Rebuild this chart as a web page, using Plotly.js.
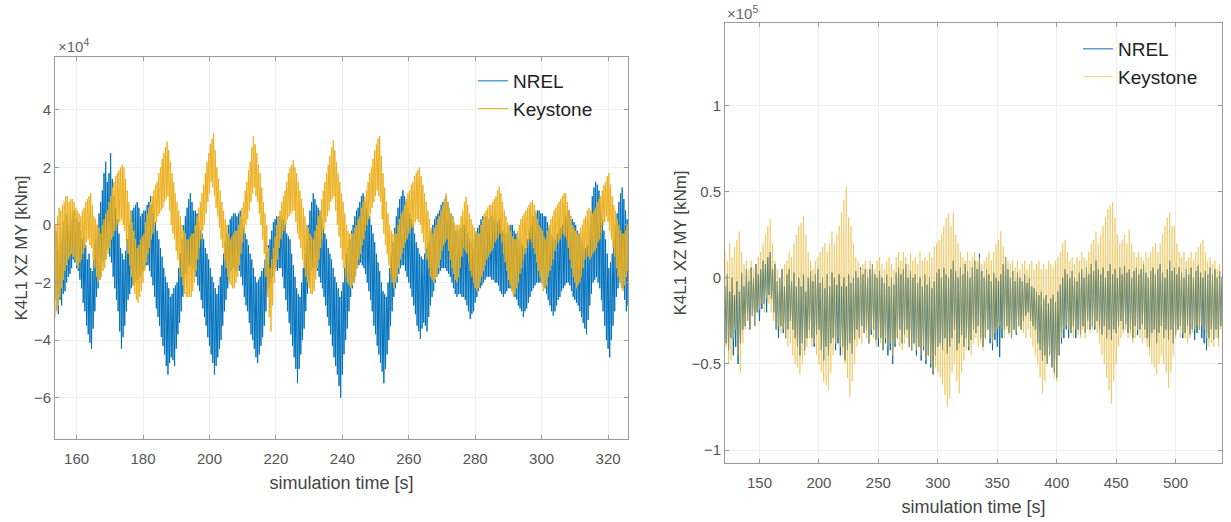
<!DOCTYPE html>
<html>
<head>
<meta charset="utf-8">
<script src="https://cdn.plot.ly/plotly-3.0.1.min.js"></script>
<style>html,body{margin:0;padding:0;background:#fff;}#chart{width:1231px;height:522px;}</style>
</head>
<body>
<div id="chart"></div>
<script>
// ---- Left panel data (values in units of 1e4 kNm), sampled every 0.25 s from t = 153.5 s
const leftT0 = 153.5;
const leftDt = 0.25;
const leftNREL = [
-2.6,-0.2,-2.9,-0.4, -3.1,-0.9,-2.6,-0.6, -2.8,-0.1,-2.4,0.1, -2.3,0.4,-2.0,0.3, -1.8,0.0,-1.7,0.2,
-1.5,0.4,-1.2,0.5, -1.3,0.2,-1.5,0.46, -1.6,0.1,-1.9,-0.2, -2.2,-0.5,-2.7,-0.4, -3.0,-0.7,-3.5,-1.2,
-3.8,-1.0,-4.1,-1.5, -4.3,-1.6,-3.6,-1.2, -3.0,-0.5,-2.5,0, -2.2,0.4,-1.9,0.8, -1.6,1.2,-1.3,1.8,
-1.2,2.2,-1.0,1.5, -0.8,1.8,-1.1,2.5, -1.3,1.6,-1.8,1.0, -2.2,0.6,-2.6,0.2, -3.0,-0.3,-3.7,-0.8,
-4.3,-1.0,-3.9,-1.2, -3.5,-0.9,-3.0,-0.5, -2.6,0.0,-2.4,0.5, -2.2,0.5,-2.1,0.6, -2.0,0.7,-1.9,0.8,
-1.9,0.6,-1.8,0.3, -1.8,0.4,-1.6,0.5, -1.5,0.5,-1.4,0.7, -1.4,0.8,-1.6,1.0, -1.8,0.7,-2.1,0.4,
-2.5,0.1,-2.9,-0.2, -3.2,-0.5,-3.5,-0.8, -3.9,-1.1,-4.2,-1.5, -4.5,-1.8,-4.9,-2.0, -5.2,-2.2,-4.8,-2.5,
-4.6,-2.4,-4.7,-2.2, -4.9,-2.1,-4.3,-2.0, -3.8,-1.5,-3.4,-1.0, -3.0,-0.5,-2.5,0, -2.0,0.3,-1.7,0.6,
-1.5,0.9,-1.4,1.1, -1.4,0.8,-1.5,0.5, -1.6,0.5,-1.8,0.4, -2.1,0.1,-2.3,-0.2, -2.6,-0.3,-2.9,-0.5,
-3.2,-0.8,-3.5,-1.0, -3.9,-1.2,-4.2,-1.5, -4.5,-1.8,-4.8,-2.0, -5.2,-2.2,-4.9,-2.4, -4.6,-2.1,-4.3,-1.8,
-4.0,-1.4,-3.5,-1.0, -3.0,-0.6,-2.6,-0.3, -2.2,0.0,-1.9,0.2, -1.6,0.3,-1.5,0.4, -1.5,0.4,-1.6,0.3,
-1.5,0.4,-1.6,0.5, -1.8,0.2,-2.1,-0.1, -2.5,-0.3,-2.8,-0.5, -3.0,-0.7,-3.4,-1.0, -3.8,-1.2,-4.0,-1.5,
-4.3,-1.8,-4.6,-2.0, -4.8,-1.9,-4.5,-1.8, -4.2,-1.6,-3.9,-1.5, -3.5,-1.2,-3.0,-0.9, -2.5,-0.7,-2.2,-0.5,
-2.0,-0.2,-1.8,0.1, -1.5,0.2,-1.5,0.3, -1.6,0.3,-1.5,0.3, -1.5,0.2,-1.8,0.2, -2.2,0.0,-2.6,-0.3,
-3.0,-0.4,-3.4,-0.5, -3.8,-1.0,-4.2,-1.4, -4.6,-1.8,-5.0,-2.2, -5.5,-2.4,-5.0,-2.5, -4.5,-2.0,-4.0,-1.5,
-3.6,-1.0,-3.0,-0.5, -2.4,0.0,-2.0,0.5, -1.6,0.8,-1.5,1.1, -1.5,0.9,-1.5,0.7, -1.6,0.6,-1.8,0.5,
-2.0,0.2,-2.2,-0.1, -2.5,-0.3,-2.8,-0.5, -3.2,-0.8,-3.5,-1.0, -3.8,-1.2,-4.2,-1.5, -4.6,-1.8,-4.9,-2.0,
-5.2,-2.2,-5.6,-2.5, -6.0,-2.3,-5.2,-2.0, -4.5,-1.5,-4.0,-1.0, -3.6,-0.8,-3.0,-0.5, -2.5,-0.2,-2.2,0,
-2.0,0.3,-1.7,0.5, -1.5,0.6,-1.4,0.8, -1.3,1.0,-1.4,1.1, -1.5,0.8,-1.7,0.6, -2.0,0.4,-2.3,0.3,
-2.6,0.0,-3.0,-0.3, -3.5,-0.6,-3.8,-1.0, -4.2,-1.3,-4.5,-1.6, -4.8,-2.0,-5.1,-2.3, -5.5,-2.4,-5.0,-2.5,
-4.5,-2.0,-4.0,-1.5, -3.5,-1.0,-3.0,-0.6, -2.5,-0.1,-2.2,0.3, -2.0,0.6,-1.7,0.9, -1.5,1.0,-1.4,1.2,
-1.4,1.0,-1.6,0.8, -1.8,0.6,-2.0,0.4, -2.2,0.2,-2.5,0, -2.8,-0.3,-3.1,-0.6, -3.5,-0.8,-3.7,-1.0,
-3.96,-1.1,-3.6,-1.2, -3.4,-1.0,-3.5,-0.8, -3.7,-0.6,-3.2,-0.5, -2.8,-0.2,-2.5,0, -2.3,0.2,-2.0,0.3,
-1.8,0.4,-1.7,0.5, -1.6,0.7,-1.5,0.8, -1.5,0.9,-1.5,1.0, -1.6,0.8,-1.7,0.5, -1.8,0.4,-2.0,0.3,
-2.2,0.0,-2.4,-0.2, -2.5,-0.2,-2.4,-0.3, -2.4,-0.1,-2.5,0, -2.5,0.0,-2.6,0, -2.8,-0.3,-3.0,-0.5,
-3.27,-0.6,-3.1,-0.8, -3.0,-0.5,-2.7,-0.3, -2.5,-0.1,-2.3,0, -2.2,0.2,-2.1,0.3, -2.0,0.3,-1.9,0.3,
-1.8,0.2,-1.8,0.2, -1.8,0.3,-1.9,0.3, -1.9,0.2,-2.0,0.1, -2.0,0.1,-2.1,0.2, -2.3,0.0,-2.4,-0.2,
-2.5,-0.2,-2.4,-0.3, -2.3,-0.1,-2.2,0, -2.2,0.0,-2.3,0, -2.4,-0.2,-2.5,-0.3, -2.6,-0.4,-2.8,-0.5,
-2.9,-0.6,-3.0,-0.7, -3.2,-0.8,-3.0,-0.8, -2.9,-0.5,-2.7,-0.2, -2.5,0.0,-2.3,0.3, -2.2,0.3,-2.1,0.4,
-2.0,0.5,-2.0,0.5, -2.0,0.4,-2.0,0.4, -2.1,0.3,-2.2,0.3, -2.4,0.1,-2.6,-0.1, -2.8,-0.3,-3.0,-0.4,
-3.15,-0.5,-3.0,-0.5, -2.8,-0.3,-2.6,-0.2, -2.5,-0.1,-2.3,0, -2.2,0.2,-2.1,0.3, -2.0,0.4,-2.0,0.5,
-2.1,0.3,-2.3,0.2, -2.5,0.1,-2.6,0, -2.7,-0.2,-2.8,-0.3, -3.0,-0.4,-3.2,-0.5, -3.4,-0.7,-3.6,-0.8,
-3.8,-0.7,-3.3,-0.5, -2.8,0.3,-2.4,1.0, -2.0,1.3,-1.9,1.5, -1.8,1.4,-2.0,1.2, -2.2,0.7,-2.6,0.2,
-3.0,-0.2,-3.5,-0.5, -4.0,-1.0,-4.3,-1.5, -4.6,-1.3,-4.0,-1.0, -3.5,-0.5,-3.0,0, -2.5,0.4,-2.2,0.8,
-2.0,1.1,-2.1,1.3, -2.2,0.9,-2.6,0.5, -3.0,0.2,-2.8,0
];
const leftKeystone = [
-3.2,0.0,-3.0,0.3, -2.8,0.6,-2.5,0.5, -2.2,0.7,-1.9,0.8, -1.6,1.0,-1.4,1.0, -1.2,0.8,-1.1,0.9,
-1.0,0.9,-1.1,0.8, -1.2,0.6,-1.4,0.5, -1.5,0.4,-1.3,0.3, -1.2,0.5,-1.0,0.6, -0.8,0.8,-0.6,0.9,
-0.5,1.0,-0.7,1.1, -0.8,0.7,-1.2,0.3, -1.5,0.2,-1.8,0, -2.0,-0.1,-1.9,-0.3, -1.8,0.0,-1.6,0.2,
-1.5,0.4,-1.2,0.5, -1.0,0.8,-0.8,1.0, -0.5,1.3,-0.4,1.5, -0.2,1.7,-0.1,1.8, 0,1.9,0.1,2.0,
0.2,2.1,0,2.0, -0.2,1.6,-0.6,1.2, -1.0,0.8,-1.4,0.5, -1.8,0.1,-2.1,-0.2, -2.4,-0.5,-2.6,-0.8,
-2.7,-0.7,-2.5,-0.5, -2.3,-0.4,-2.0,-0.3, -1.6,0.1,-1.3,0.4, -1.0,0.6,-0.8,0.8, -0.5,1.0,-0.3,1.2,
0,1.4,0.1,1.5, 0.3,1.8,0.4,2.0, 0.5,2.3,0.6,2.5, 0.8,2.7,0.9,2.9, 1.0,2.6,0.5,2.2,
0,1.8,-0.3,1.5, -0.5,1.1,-0.9,0.8, -1.2,0.5,-1.5,0.3, -1.8,0.0,-2.1,-0.2, -2.4,-0.3,-2.5,-0.5,
-2.5,-0.5,-2.5,-0.4, -2.5,-0.3,-2.3,-0.3, -2.0,0.0,-1.6,0.3, -1.2,0.6,-0.8,0.8, -0.5,1.1,-0.2,1.4,
0,1.8,0.4,2.2, 0.8,2.5,1.1,2.8, 1.5,3.0,1.3,3.2, 1.0,2.6,0.6,2.0, 0.3,1.6,-0.1,1.2,
-0.5,0.8,-0.8,0.5, -1.2,0.2,-1.5,0, -1.8,-0.3,-2.0,-0.5, -2.1,-0.4,-2.2,-0.3, -2.2,-0.2,-2.0,-0.2,
-1.8,0.0,-1.4,0.3, -1.0,0.6,-0.6,0.8, -0.3,1.2,0.0,1.5, 0.2,1.9,0.5,2.2, 0.8,2.7,1.1,3.1,
1.3,2.8,1.0,2.5, 0.8,2.1,0.4,1.8, 0,1.3,-0.5,0.8, -1.0,0.4,-1.8,0, -2.5,-0.8,-3.2,-1.5,
-3.7,-1.2,-2.8,-0.8, -2.0,-0.4,-1.6,0, -1.2,0.3,-0.8,0.5, -0.5,0.8,-0.3,1.0, -0.2,1.2,0.0,1.5,
0.2,1.8,0.3,2.0, 0.4,2.1,0.5,2.25, 0.5,2.0,0.1,1.8, -0.3,1.5,-0.5,1.2, -0.8,0.9,-1.2,0.6,
-1.5,0.3,-1.8,0, -2.0,-0.1,-2.2,-0.3, -2.4,-0.4,-2.4,-0.5, -2.3,-0.2,-1.9,0, -1.5,0.3,-1.2,0.5,
-0.8,0.9,-0.5,1.2, -0.2,1.5,0.1,1.8, 0.3,2.1,0.5,2.4, 0.8,2.7,0.9,2.94, 1.0,2.6,0.5,2.2,
0,1.8,-0.4,1.5, -0.8,1.1,-1.2,0.8, -1.5,0.4,-1.8,0, -2.0,-0.2,-2.1,-0.3, -2.2,-0.3,-2.1,-0.3,
-2.0,-0.1,-1.8,0, -1.5,0.2,-1.2,0.3, -1.0,0.6,-0.7,0.8, -0.5,1.0,-0.2,1.2, 0,1.5,0.2,1.8,
0.4,2.0,0.6,2.3, 0.8,2.6,1.0,2.8, 1.2,3.0,1.0,3.1, 0.8,2.4,0.2,1.8, -0.3,1.3,-0.7,0.8,
-1.0,0.4,-1.4,0, -1.7,-0.2,-2.0,-0.3, -2.2,-0.3,-2.0,-0.3, -1.8,0.0,-1.5,0.2, -1.2,0.4,-1.0,0.5,
-0.8,0.7,-0.6,0.9, -0.5,1.1,-0.3,1.2, -0.2,1.4,-0.1,1.5, 0,1.7,0.1,1.8, 0.2,1.9,0.1,2.0,
0,1.7,-0.3,1.4, -0.6,1.1,-0.9,0.8, -1.2,0.5,-1.5,0.2, -1.8,-0.1,-1.9,-0.3, -2.0,-0.1,-1.9,0,
-1.8,0.2,-1.5,0.3, -1.2,0.5,-0.9,0.7, -0.7,0.9,-0.6,1.1, -0.5,0.8,-0.9,0.6, -1.2,0.4,-1.5,0.3,
-1.7,0.1,-1.9,0, -2.0,0.0,-1.8,0, -1.5,0.3,-1.1,0.5, -0.8,0.8,-0.9,0.98, -1.0,0.7,-1.3,0.4,
-1.6,0.2,-1.8,0, -2.0,-0.1,-2.2,-0.2, -2.3,-0.3,-2.2,-0.3, -2.0,0.0,-1.8,0.2, -1.6,0.4,-1.4,0.5,
-1.2,0.6,-1.1,0.7, -1.0,0.7,-0.9,0.8, -0.8,0.9,-0.6,1.0, -0.5,1.2,-0.4,1.33, -0.3,1.1,-0.6,0.8,
-1.0,0.5,-1.3,0.3, -1.6,0.1,-1.9,0, -2.1,-0.2,-2.3,-0.4, -2.5,-0.5,-2.4,-0.5, -2.2,-0.2,-2.0,0,
-1.7,0.2,-1.5,0.3, -1.2,0.4,-1.0,0.5, -0.8,0.6,-0.6,0.7, -0.5,0.8,-0.6,0.86, -0.8,0.7,-1.0,0.5,
-1.3,0.2,-1.6,0, -1.8,-0.1,-2.0,-0.2, -2.3,-0.4,-2.2,-0.5, -2.1,-0.2,-1.8,0, -1.6,0.2,-1.4,0.3,
-1.2,0.5,-0.9,0.6, -0.7,0.7,-0.6,0.8, -0.5,0.9,-0.4,1.0, -0.3,1.1,-0.4,1.1, -0.5,0.8,-0.8,0.5,
-1.2,0.3,-1.5,0, -1.8,-0.1,-2.0,-0.2, -2.2,-0.3,-2.1,-0.3, -2.0,-0.1,-1.8,0, -1.5,0.2,-1.2,0.3,
-1.0,0.5,-1.1,0.6, -1.2,0.5,-1.1,0.4, -1.0,0.5,-0.9,0.6, -0.8,0.8,-0.6,0.9, -0.5,1.0,-0.3,1.2,
0,1.4,0.1,1.5, 0.3,1.7,0.1,1.8, -0.2,1.4,-0.5,1.0, -0.8,0.7,-1.1,0.5, -1.5,0.2,-1.8,0,
-2.0,-0.2,-2.2,-0.3, -2.3,-0.3,-2.1,-0.2, -1.8,0.0,-1.6,0.17
];

// ---- Right panel data (values in units of 1e5 kNm), sampled every 1 s from t = 121 s
const rightT0 = 121;
const rightDt = 1;
const rightNREL = [
-0.05,-0.38,0.02,-0.42,-0.08,-0.35,0.0,-0.45,-0.1,-0.4,
-0.02,-0.5,-0.08,-0.38,0.03,-0.3,-0.05,-0.28,0.05,-0.25,
-0.02,-0.3,0.06,-0.22,0.0,-0.28,0.08,-0.2,0.02,-0.25,
0.05,-0.18,0.1,-0.15,0.08,-0.2,0.12,-0.1,0.15,-0.12,
0.05,-0.2,0.08,-0.3,-0.02,-0.35,0.0,-0.28,0.05,-0.32,
-0.05,-0.35,0.02,-0.3,0.05,-0.25,-0.02,-0.3,0.03,-0.35,
-0.05,-0.4,0.0,-0.45,-0.05,-0.38,0.02,-0.42,-0.08,-0.35,
0.0,-0.3,0.04,-0.35,-0.02,-0.4,0.02,-0.33,0.05,-0.3,
-0.03,-0.42,0.0,-0.48,-0.06,-0.4,0.02,-0.45,-0.05,-0.38,
0.03,-0.35,0.0,-0.42,-0.04,-0.38,0.02,-0.45,-0.05,-0.4,
0.0,-0.48,-0.05,-0.42,0.02,-0.38,-0.03,-0.44,0.0,-0.36,
0.04,-0.3,0.0,-0.35,0.06,-0.28,0.02,-0.32,0.05,-0.3,
0.0,-0.38,0.05,-0.33,0.08,-0.3,0.02,-0.36,0.0,-0.4,
0.04,-0.35,0.0,-0.42,-0.03,-0.38,0.02,-0.45,-0.05,-0.42,
0.0,-0.5,-0.04,-0.4,0.03,-0.35,0.06,-0.3,0.02,-0.38,
0.05,-0.33,0.08,-0.3,0.0,-0.4,0.04,-0.42,0.0,-0.38,
0.02,-0.45,-0.03,-0.4,0.0,-0.48,-0.05,-0.42,0.02,-0.5,
-0.04,-0.45,0.0,-0.52,-0.06,-0.56,-0.02,-0.45,0.03,-0.4,
0.05,-0.38,0.0,-0.42,0.06,-0.35,0.02,-0.44,0.0,-0.4,
0.05,-0.35,0.1,-0.3,0.04,-0.42,0.0,-0.38,0.06,-0.33,
0.02,-0.4,0.08,-0.35,0.04,-0.42,0.0,-0.36,0.06,-0.3,
0.1,-0.32,0.05,-0.28,0.14,-0.35,0.04,-0.4,0.0,-0.35,
0.05,-0.3,0.02,-0.38,-0.02,-0.42,0.03,-0.36,0.0,-0.4,
-0.02,-0.46,0.02,-0.35,0.08,-0.3,0.12,-0.28,0.05,-0.32,
0.0,-0.35,0.04,-0.3,-0.02,-0.33,0.03,-0.28,0.0,-0.3,
-0.02,-0.25,0.02,-0.22,-0.03,-0.2,0.0,-0.25,-0.05,-0.28,
-0.06,-0.3,-0.08,-0.38,-0.1,-0.42,-0.08,-0.48,-0.12,-0.45,
-0.1,-0.5,-0.15,-0.45,-0.12,-0.52,-0.1,-0.55,-0.14,-0.58,
-0.08,-0.45,-0.04,-0.38,0.0,-0.35,0.05,-0.3,0.02,-0.35,
0.0,-0.32,0.04,-0.28,0.0,-0.35,-0.02,-0.3,0.03,-0.33,
0.05,-0.28,0.0,-0.32,0.06,-0.25,0.02,-0.3,0.08,-0.28,
0.04,-0.3,0.1,-0.25,0.05,-0.3,0.02,-0.33,0.06,-0.28,
0.0,-0.35,0.04,-0.3,0.08,-0.36,0.02,-0.3,0.05,-0.32,
0.0,-0.28,0.06,-0.25,0.02,-0.3,0.07,-0.27,0.03,-0.32,
0.05,-0.3,0.0,-0.35,0.04,-0.28,0.06,-0.33,0.02,-0.3,
0.05,-0.27,0.08,-0.3,0.03,-0.35,0.0,-0.4,0.04,-0.32,
0.06,-0.3,0.02,-0.38,0.05,-0.32,0.08,-0.28,0.03,-0.35,
0.0,-0.3,0.05,-0.36,0.1,-0.3,0.04,-0.38,0.06,-0.33,
0.02,-0.3,0.06,-0.28,0.03,-0.35,0.0,-0.32,0.05,-0.28,
0.02,-0.33,0.06,-0.3,0.0,-0.36,0.04,-0.32,0.07,-0.3,
0.03,-0.35,0.0,-0.38,0.04,-0.42,0.02,-0.35,0.06,-0.3,
0.02,-0.36,0.05,-0.3,0.0,-0.35,0.04,-0.28,0.0
];
const rightKeystone = [
0.15,-0.4,0.1,-0.5,0.2,-0.48,0.12,-0.35,0.18,-0.3,
0.22,-0.45,0.27,-0.55,0.15,-0.38,0.08,-0.3,0.1,-0.25,
0.05,-0.3,0.1,-0.22,0.06,-0.28,0.08,-0.2,0.12,-0.18,
0.15,-0.15,0.2,-0.2,0.25,-0.12,0.3,-0.15,0.34,-0.2,
0.2,-0.25,0.1,-0.3,0.05,-0.28,0.0,-0.32,0.05,-0.3,
0.08,-0.35,0.1,-0.4,0.15,-0.38,0.12,-0.45,0.2,-0.5,
0.25,-0.52,0.3,-0.56,0.32,-0.5,0.36,-0.45,0.25,-0.4,
0.15,-0.35,0.1,-0.4,0.05,-0.38,0.1,-0.45,0.12,-0.5,
0.15,-0.55,0.18,-0.6,0.2,-0.62,0.15,-0.65,0.2,-0.55,
0.27,-0.45,0.2,-0.38,0.25,-0.35,0.3,-0.4,0.38,-0.45,
0.45,-0.5,0.53,-0.58,0.35,-0.69,0.3,-0.6,0.2,-0.5,
0.12,-0.4,0.1,-0.35,0.05,-0.38,0.08,-0.32,0.1,-0.35,
0.05,-0.38,0.1,-0.3,0.08,-0.35,0.05,-0.4,0.1,-0.35,
0.12,-0.38,0.08,-0.42,0.05,-0.35,0.1,-0.4,0.12,-0.38,
0.08,-0.45,0.05,-0.38,0.12,-0.35,0.15,-0.4,0.1,-0.42,
0.15,-0.38,0.12,-0.35,0.08,-0.4,0.14,-0.42,0.1,-0.38,
0.12,-0.42,0.08,-0.4,0.15,-0.45,0.1,-0.4,0.12,-0.48,
0.1,-0.45,0.15,-0.5,0.12,-0.55,0.18,-0.52,0.2,-0.55,
0.22,-0.58,0.25,-0.62,0.3,-0.68,0.35,-0.75,0.37,-0.7,
0.3,-0.55,0.38,-0.5,0.25,-0.6,0.2,-0.67,0.15,-0.55,
0.12,-0.48,0.1,-0.42,0.15,-0.4,0.1,-0.45,0.12,-0.38,
0.15,-0.35,0.1,-0.4,0.12,-0.38,0.08,-0.42,0.1,-0.35,
0.12,-0.3,0.15,-0.35,0.1,-0.38,0.15,-0.32,0.2,-0.3,
0.22,-0.28,0.27,-0.3,0.18,-0.35,0.12,-0.3,0.1,-0.33,
0.08,-0.35,0.1,-0.3,0.06,-0.32,0.1,-0.28,0.05,-0.3,
0.08,-0.32,0.1,-0.35,0.05,-0.3,0.08,-0.35,0.1,-0.4,
0.05,-0.45,0.08,-0.5,0.1,-0.58,0.05,-0.67,0.08,-0.6,
0.05,-0.5,0.1,-0.45,0.08,-0.52,0.06,-0.58,0.1,-0.6,
0.12,-0.45,0.15,-0.35,0.2,-0.3,0.22,-0.28,0.15,-0.3,
0.1,-0.32,0.12,-0.35,0.08,-0.3,0.12,-0.33,0.1,-0.35,
0.15,-0.3,0.12,-0.35,0.1,-0.3,0.15,-0.32,0.2,-0.3,
0.22,-0.28,0.27,-0.32,0.2,-0.38,0.25,-0.45,0.3,-0.5,
0.35,-0.58,0.4,-0.65,0.42,-0.73,0.44,-0.6,0.35,-0.5,
0.25,-0.4,0.2,-0.35,0.22,-0.32,0.25,-0.3,0.2,-0.35,
0.28,-0.33,0.2,-0.38,0.15,-0.35,0.12,-0.3,0.15,-0.35,
0.12,-0.38,0.1,-0.35,0.15,-0.4,0.12,-0.45,0.15,-0.5,
0.18,-0.52,0.2,-0.56,0.15,-0.5,0.2,-0.45,0.25,-0.5,
0.3,-0.55,0.35,-0.64,0.38,-0.55,0.3,-0.45,0.3,-0.35,
0.2,-0.3,0.15,-0.35,0.12,-0.32,0.15,-0.35,0.1,-0.38,
0.12,-0.35,0.15,-0.32,0.1,-0.3,0.15,-0.28,0.18,-0.3,
0.2,-0.28,0.22,-0.3,0.15,-0.35,0.1,-0.4,0.12,-0.38,
0.08,-0.4,0.1,-0.35,0.05,-0.4,0.08,-0.3,0.0
];

// ---- Tick values / labels
const leftXTicks = [160,180,200,220,240,260,280,300,320];
const leftYTicks = [-6,-4,-2,0,2,4];
const rightXTicks = [150,200,250,300,350,400,450,500];
const rightYTicks = [-1,-0.5,0,0.5,1];
const seriesNames = ['NREL','Keystone'];
const xTitle = 'simulation time [s]';
const yTitle = 'K4L1 XZ MY [kNm]';

const BLUE = '#0072BD';
const ORANGE = '#EDB120';
const FONT = 'Liberation Sans, Arial, Helvetica, sans-serif';

const traces = [
  {type:'scatter', mode:'lines', name:seriesNames[0], x0:leftT0, dx:leftDt, y:leftNREL,
   xaxis:'x', yaxis:'y', line:{color:BLUE, width:1}, legend:'legend'},
  {type:'scatter', mode:'lines', name:seriesNames[1], x0:leftT0, dx:leftDt, y:leftKeystone,
   xaxis:'x', yaxis:'y', line:{color:ORANGE, width:1}, legend:'legend'},
  {type:'scatter', mode:'lines', name:seriesNames[0], x0:rightT0, dx:rightDt, y:rightNREL,
   xaxis:'x2', yaxis:'y2', line:{color:'#0a6aa8', width:1}, legend:'legend2'},
  {type:'scatter', mode:'lines', name:seriesNames[1], x0:rightT0, dx:rightDt, y:rightKeystone,
   xaxis:'x2', yaxis:'y2', line:{color:'rgba(237,177,32,0.5)', width:1}, legend:'legend2'}
];

function axisStyle(extra){
  return Object.assign({
    showline:true, linecolor:'#9a9a9a', linewidth:1, mirror:'ticks',
    ticks:'inside', ticklen:4, tickcolor:'#9a9a9a',
    showgrid:true, gridcolor:'#eeeeee', gridwidth:1, zeroline:false,
    tickfont:{family:FONT, size:15, color:'#555'},
    tickmode:'array'
  }, extra);
}

const layout = {
  width:1231, height:522,
  margin:{l:0, r:0, t:0, b:0},
  paper_bgcolor:'#ffffff', plot_bgcolor:'#ffffff',
  font:{family:FONT},
  showlegend:true,
  xaxis: axisStyle({domain:[55/1231, 628/1231], anchor:'y', range:[153.5, 326], tickvals:leftXTicks,
    ticklabelstandoff:6,
    title:{text:xTitle, font:{family:FONT, size:18, color:'#444'}, standoff:10}}),
  yaxis: axisStyle({domain:[83/522, 465/522], anchor:'x', range:[-7.44, 5.84], tickvals:leftYTicks,
    title:{text:yTitle, font:{family:FONT, size:17, color:'#444'}, standoff:1}}),
  xaxis2: axisStyle({domain:[725/1231, 1222/1231], anchor:'y2', range:[121, 539], tickvals:rightXTicks,
    ticklabelstandoff:6,
    title:{text:xTitle, font:{family:FONT, size:18, color:'#444'}, standoff:10}}),
  yaxis2: axisStyle({domain:[59/522, 499/522], anchor:'x2', range:[-1.075, 1.48], tickvals:rightYTicks,
    title:{text:yTitle, font:{family:FONT, size:17, color:'#444'}, standoff:0}}),
  legend:{x:473/1231, y:1-62/522, xanchor:'left', yanchor:'top', bgcolor:'rgba(0,0,0,0)',
    font:{family:FONT, size:19, color:'#222'}, itemwidth:30},
  legend2:{x:1078/1231, y:1-30/522, xanchor:'left', yanchor:'top', bgcolor:'rgba(0,0,0,0)',
    font:{family:FONT, size:19, color:'#222'}, itemwidth:30},
  annotations:[
    {xref:'paper', yref:'paper', x:56/1231, y:1-45/522, xanchor:'left', yanchor:'middle', showarrow:false,
     text:'×10<sup>4</sup>', font:{family:FONT, size:15, color:'#666'}},
    {xref:'paper', yref:'paper', x:725/1231, y:1-13/522, xanchor:'left', yanchor:'middle', showarrow:false,
     text:'×10<sup>5</sup>', font:{family:FONT, size:15, color:'#666'}}
  ]
};

Plotly.newPlot('chart', traces, layout, {displayModeBar:false, staticPlot:true});
</script>
</body>
</html>
